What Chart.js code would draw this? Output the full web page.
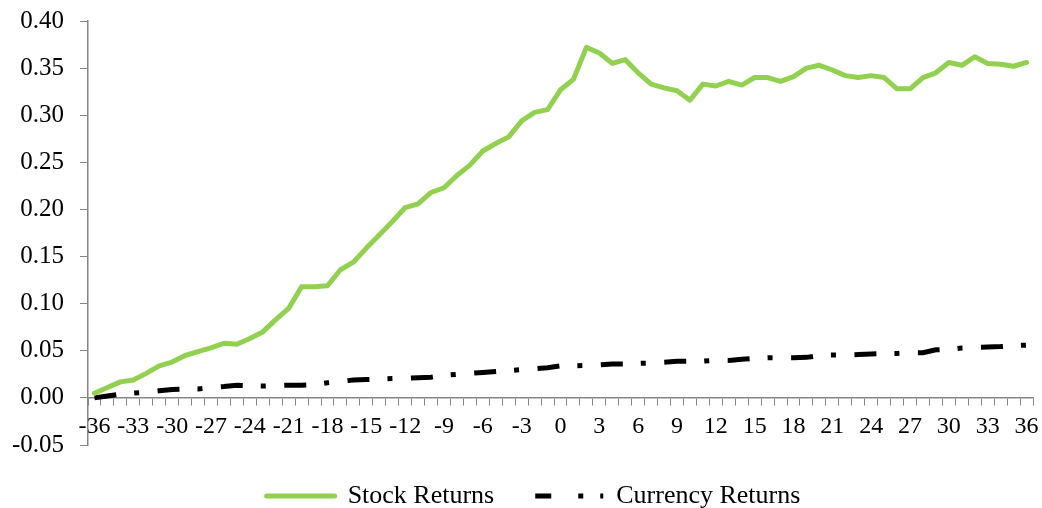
<!DOCTYPE html>
<html>
<head>
<meta charset="utf-8">
<script src="https://cdn.jsdelivr.net/npm/chart.js@4/dist/chart.umd.min.js"></script>
<style>
    html, body { margin: 0; padding: 0; background: #ffffff; }
    #wrap { width: 1042px; height: 508px; position: relative; }
</style>
</head>
<body>
<div id="wrap"><canvas id="ReturnsChart"></canvas></div>
<script>
const months = [
    -36, -35, -34, -33, -32, -31, -30, -29, -28, -27, -26, -25, -24, -23, -22, -21, -20, -19, -18, -17, -16, -15, -14, -13,
    -12, -11, -10, -9, -8, -7, -6, -5, -4, -3, -2, -1, 0, 1, 2, 3, 4, 5, 6, 7, 8, 9, 10, 11,
    12, 13, 14, 15, 16, 17, 18, 19, 20, 21, 22, 23, 24, 25, 26, 27, 28, 29, 30, 31, 32, 33, 34, 35, 36
];

const stockReturns = [
    0.005, 0.011, 0.017, 0.019, 0.026, 0.034, 0.038, 0.045, 0.049, 0.053, 0.058, 0.057, 0.063, 0.070, 0.083, 0.095, 0.118, 0.118, 0.119, 0.136, 0.144, 0.159, 0.173, 0.187,
    0.202, 0.206, 0.218, 0.223, 0.236, 0.247, 0.262, 0.270, 0.277, 0.294, 0.303, 0.306, 0.327, 0.338, 0.372, 0.366, 0.355, 0.359, 0.345, 0.333, 0.329, 0.326, 0.316, 0.333,
    0.331, 0.336, 0.332, 0.340, 0.340, 0.336, 0.341, 0.350, 0.353, 0.348, 0.342, 0.340, 0.342, 0.340, 0.328, 0.328, 0.340, 0.345, 0.356, 0.353, 0.362, 0.355, 0.354, 0.352, 0.356
];

const currencyReturns = [
    0.000, 0.002, 0.004, 0.005, 0.006, 0.0075, 0.009, 0.0095, 0.0095, 0.011, 0.012, 0.0135, 0.013, 0.0125, 0.013, 0.0135, 0.0135, 0.014, 0.016, 0.0175, 0.019, 0.0195, 0.020, 0.0205,
    0.021, 0.0215, 0.022, 0.024, 0.025, 0.026, 0.027, 0.028, 0.029, 0.030, 0.031, 0.032, 0.034, 0.034, 0.0345, 0.035, 0.036, 0.036, 0.0366, 0.037, 0.0378, 0.0388, 0.039, 0.039,
    0.040, 0.0398, 0.041, 0.042, 0.0426, 0.0426, 0.0426, 0.043, 0.045, 0.0455, 0.0455, 0.046, 0.0466, 0.047, 0.0472, 0.048, 0.048, 0.051, 0.0515, 0.053, 0.0536, 0.054, 0.0545, 0.0554, 0.056
];

const yTicks = { min: -0.05, max: 0.40, step: 0.05 };

const axisGrey = '#868686';
const fontFamily = '"Liberation Serif", "Times New Roman", serif';

// nudge the legend row to the right, the source chart has it off centre
const legendShift = {
    id: 'legendShift',
    afterLayout(chart) {
        chart.legend.left += 17;
        chart.legend.right += 17;
    }
};

const data_returns = {
    labels: months,
    datasets: [{
        label: 'Stock Returns',
        data: stockReturns,
        borderColor: '#92D050',
        backgroundColor: '#92D050',
        borderWidth: 5,
        pointRadius: 0,
        tension: 0,
        borderJoinStyle: 'round',
        borderCapStyle: 'round'
    }, {
        label: 'Currency Returns',
        data: currencyReturns,
        borderColor: '#000000',
        backgroundColor: '#000000',
        borderWidth: 5,
        borderDash: [22, 18, 5, 18.5],
        pointRadius: 0,
        tension: 0,
        borderCapStyle: 'butt'
    }]
};

const config_returns = {
    type: 'line',
    data: data_returns,
    plugins: [legendShift],
    options: {
        responsive: true,
        maintainAspectRatio: false,
        animation: false,
        layout: {
            padding: { top: 21, right: 9, left: 0, bottom: -11 }
        },
        scales: {
            x: {
                type: 'category',
                position: { y: 0 },
                offset: true,
                afterFit: (s) => { s.paddingLeft = 0; s.paddingRight = 0; },
                grid: {
                    display: true,
                    offset: true,
                    drawOnChartArea: false,
                    drawTicks: true,
                    tickLength: 7,
                    color: axisGrey,
                    lineWidth: 1
                },
                border: { color: axisGrey, width: 1.5 },
                ticks: {
                    autoSkip: false,
                    maxRotation: 0,
                    minRotation: 0,
                    padding: 7,
                    color: '#000000',
                    font: { family: fontFamily, size: 24 },
                    callback: function (val, i) {
                        return i % 3 === 0 ? String(months[i]) : '';
                    }
                }
            },
            y: {
                min: yTicks.min,
                max: yTicks.max,
                afterFit: (s) => { s.width = 88; s.paddingTop = 0; s.paddingBottom = 0; },
                grid: {
                    display: true,
                    drawOnChartArea: false,
                    drawTicks: true,
                    tickLength: 8,
                    color: axisGrey
                },
                border: { color: axisGrey, width: 1.5 },
                ticks: {
                    stepSize: yTicks.step,
                    padding: 16,
                    color: '#000000',
                    font: { family: fontFamily, size: 25 },
                    callback: (v) => Number(v).toFixed(2)
                }
            }
        },
        plugins: {
            legend: {
                display: true,
                position: 'bottom',
                title: {
                    display: true,
                    text: '',
                    font: { size: 10 },
                    padding: { top: 12, bottom: 12 }
                },
                labels: {
                    usePointStyle: true,
                    pointStyle: 'line',
                    pointStyleWidth: 68,
                    padding: 2,
                    color: '#000000',
                    font: { family: fontFamily, size: 26 },
                    generateLabels: (chart) => {
                        const items = Chart.defaults.plugins.legend.labels.generateLabels(chart);
                        items.forEach((it) => {
                            it.pointStyle = 'line';
                            if (it.datasetIndex === 1) {
                                it.lineDash = [16, 27, 5, 17, 5, 80];
                                it.lineDashOffset = 0;
                                it.lineCap = 'butt';
                            } else {
                                it.text = it.text + '\u2002\u2002\u2002';
                                it.lineCap = 'round';
                            }
                        });
                        return items;
                    }
                }
            },
            title: { display: false },
            tooltip: { enabled: false }
        }
    }
};

const myChart_Returns = new Chart(
    document.getElementById('ReturnsChart'),
    config_returns
);
</script>
</body>
</html>
